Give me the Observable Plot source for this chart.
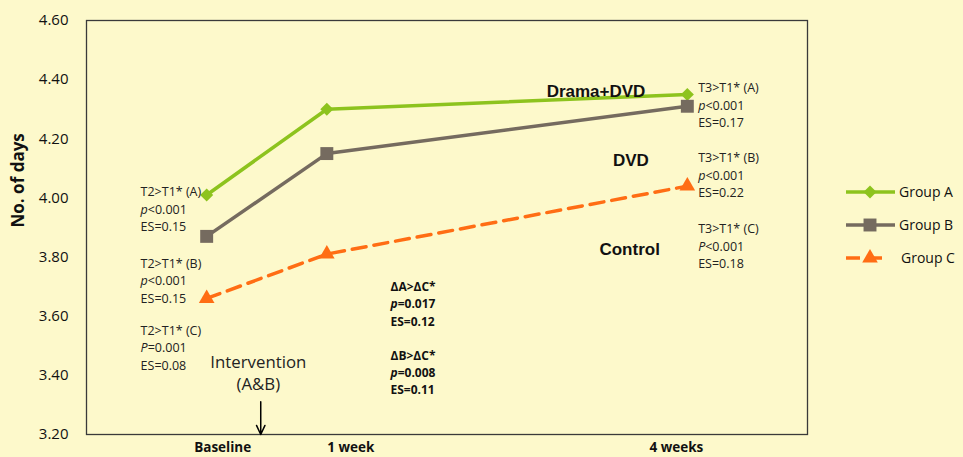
<!DOCTYPE html>
<html>
<head>
<meta charset="utf-8">
<script src="https://cdn.jsdelivr.net/npm/d3@7"></script>
<script src="https://cdn.jsdelivr.net/npm/@observablehq/plot@0.6"></script>
<style>
  html, body { margin: 0; padding: 0; background: #FDF9CB; }
  #wrap { position: relative; width: 963px; height: 457px; background: #FDF9CB; overflow: hidden; }
  #legend { position: absolute; left: 0; top: 0; }
</style>
</head>
<body>
<div id="wrap"></div>
<script>
// ---- data ----
const timepoints = ["Baseline", "1 week", "4 weeks"];
const weeks = [0, 1, 4];
const groups = ["Group A", "Group B", "Group C"];
const groupA = [4.01, 4.30, 4.35];
const groupB = [3.87, 4.15, 4.31];
const groupC = [3.66, 3.81, 4.04];
const yTicks = [3.2, 3.4, 3.6, 3.8, 4.0, 4.2, 4.4, 4.6];

// annotation texts
const notesText = [
  "T2>T1* (A)\np<0.001\nES=0.15",
  "T2>T1* (B)\np<0.001\nES=0.15",
  "T2>T1* (C)\nP=0.001\nES=0.08",
  "T3>T1* (A)\np<0.001\nES=0.17",
  "T3>T1* (B)\np<0.001\nES=0.22",
  "T3>T1* (C)\nP<0.001\nES=0.18"
];
const notesX = [-0.55, -0.55, -0.55, 4.09, 4.09, 4.09];
const notesY = [3.966, 3.723, 3.497, 4.317, 4.080, 3.841];
const diffText = ["ΔA>ΔC*\np=0.017\nES=0.12", "ΔB>ΔC*\np=0.008\nES=0.11"];
const diffX = [1.53, 1.53];
const diffY = [3.645, 3.413];
const groupLabels = ["Drama+DVD", "DVD", "Control"];
const groupLabelX = [3.24, 3.53, 3.52];
const groupLabelY = [4.36, 4.128, 3.824];
const interventionText = "Intervention\n(A&B)";

// styles
const colors = ["#8DC31E", "#756B5F", "#FF6D14"];
const xLabelDx = [16, 24, -11];

const series = [groupA, groupB, groupC];
const rows = [];
groups.forEach((g, gi) => series[gi].forEach((v, i) => rows.push({group: g, gi, week: weeks[i], value: v})));
const notes = notesText.map((t, i) => ({t, x: notesX[i], y: notesY[i]}));
const diffs = diffText.map((t, i) => ({t, x: diffX[i], y: diffY[i]}));
const glabs = groupLabels.map((t, i) => ({t, x: groupLabelX[i], y: groupLabelY[i]}));
const xlabs = timepoints.map((t, i) => ({t, x: weeks[i], dx: xLabelDx[i]}));

const byGroup = g => rows.filter(r => r.group === g);
const font = "'Open Sans', sans-serif";

const chart = Plot.plot({
  width: 963,
  height: 457,
  marginLeft: 86,
  marginRight: 156,
  marginTop: 20,
  marginBottom: 23,
  style: {background: "transparent", fontFamily: font},
  x: {domain: [-1, 5], axis: null},
  y: {domain: [3.2, 4.6], axis: null},
  marks: [
    Plot.frame({stroke: "#3a3a3a", strokeWidth: 1.3}),
    Plot.axisY({ticks: yTicks, tickFormat: d3.format(".2f"), tickSize: 0, tickPadding: 18, fontSize: 15, fill: "#111", label: null}),
    Plot.text(["No. of days"], {frameAnchor: "left", rotate: -90, dx: -68, fontWeight: "bold", fontSize: 17, fill: "#111"}),
    ...xlabs.map(d => Plot.text([d], {x: "x", y: () => 3.2, text: "t", dy: 13, dx: d.dx, fontWeight: "bold", fontSize: 13.5, fill: "#111"})),
    // lines
    Plot.line(byGroup("Group A"), {x: "week", y: "value", stroke: colors[0], strokeWidth: 3.5}),
    Plot.line(byGroup("Group B"), {x: "week", y: "value", stroke: colors[1], strokeWidth: 3.5}),
    Plot.line(byGroup("Group C"), {x: "week", y: "value", stroke: colors[2], strokeWidth: 3.5, strokeDasharray: "14,8"}),
    Plot.dot(byGroup("Group A"), {x: "week", y: "value", symbol: "square", rotate: 45, r: 5.2, fill: colors[0]}),
    Plot.dot(byGroup("Group B"), {x: "week", y: "value", symbol: "square", r: 7.3, fill: colors[1]}),
    Plot.dot(byGroup("Group C"), {x: "week", y: "value", symbol: "triangle", r: 5.8, fill: colors[2]}),
    // annotations
    Plot.text(notes, {x: "x", y: "y", text: "t", textAnchor: "start", lineAnchor: "middle", lineHeight: 1.4, fontSize: 12.5, fill: "#222"}),
    Plot.text(diffs, {x: "x", y: "y", text: "t", textAnchor: "start", lineAnchor: "middle", lineHeight: 1.45, fontSize: 12, fontWeight: "bold", fill: "#111"}),
    Plot.text(glabs, {x: "x", y: "y", text: "t", fontSize: 17, fontWeight: "bold", fontFamily: "'Liberation Sans', Arial, sans-serif", fill: "#111"}),
    Plot.text([interventionText], {x: () => 0.43, y: () => 3.411, text: d => d, lineAnchor: "middle", lineHeight: 1.3, fontSize: 16.8, fill: "#222"}),
    Plot.arrow([0], {x1: () => 0.45, x2: () => 0.45, y1: () => 3.311, y2: () => 3.2, stroke: "#000", strokeWidth: 1.5, headLength: 10, headAngle: 50})
  ]
});

// italic p in statistic lines
d3.select(chart).selectAll("tspan, text").each(function() {
  if (this.childElementCount) return;
  const s = this.textContent;
  const m = /^([pP])([<=].*)$/.exec(s);
  if (!m) return;
  this.textContent = "";
  const el = d3.select(this);
  el.append("tspan").attr("font-style", "italic").text(m[1]);
  el.append("tspan").text(m[2]);
});

const wrap = document.getElementById("wrap");
wrap.appendChild(chart);

// legend
const leg = d3.select(wrap).append("svg").attr("id", "legend").attr("width", 963).attr("height", 457);
const legY = [192, 225, 258];
groups.forEach((g, i) => {
  const gEl = leg.append("g").attr("transform", `translate(0,${legY[i]})`);
  gEl.append("line").attr("x1", 846).attr("x2", i === 2 ? 887 : 895).attr("y1", 0).attr("y2", 0)
    .attr("stroke", colors[i]).attr("stroke-width", 3.5).attr("stroke-dasharray", i === 2 ? "14,8" : null);
  const sym = [d3.symbolSquare, d3.symbolSquare, d3.symbolTriangle][i];
  const size = [5.2, 7.3, 5.8][i];
  gEl.append("path").attr("d", d3.symbol(sym, Math.PI * size * size)())
    .attr("transform", `translate(870,0)${i === 0 ? " rotate(45)" : ""}`).attr("fill", colors[i]);
  gEl.append("text").attr("x", 899 + (i === 2 ? 2 : 0)).attr("y", 0).attr("dy", "0.35em")
    .attr("font-family", font).attr("font-size", 14).attr("fill", "#111").text(g);
});
</script>
</body>
</html>
